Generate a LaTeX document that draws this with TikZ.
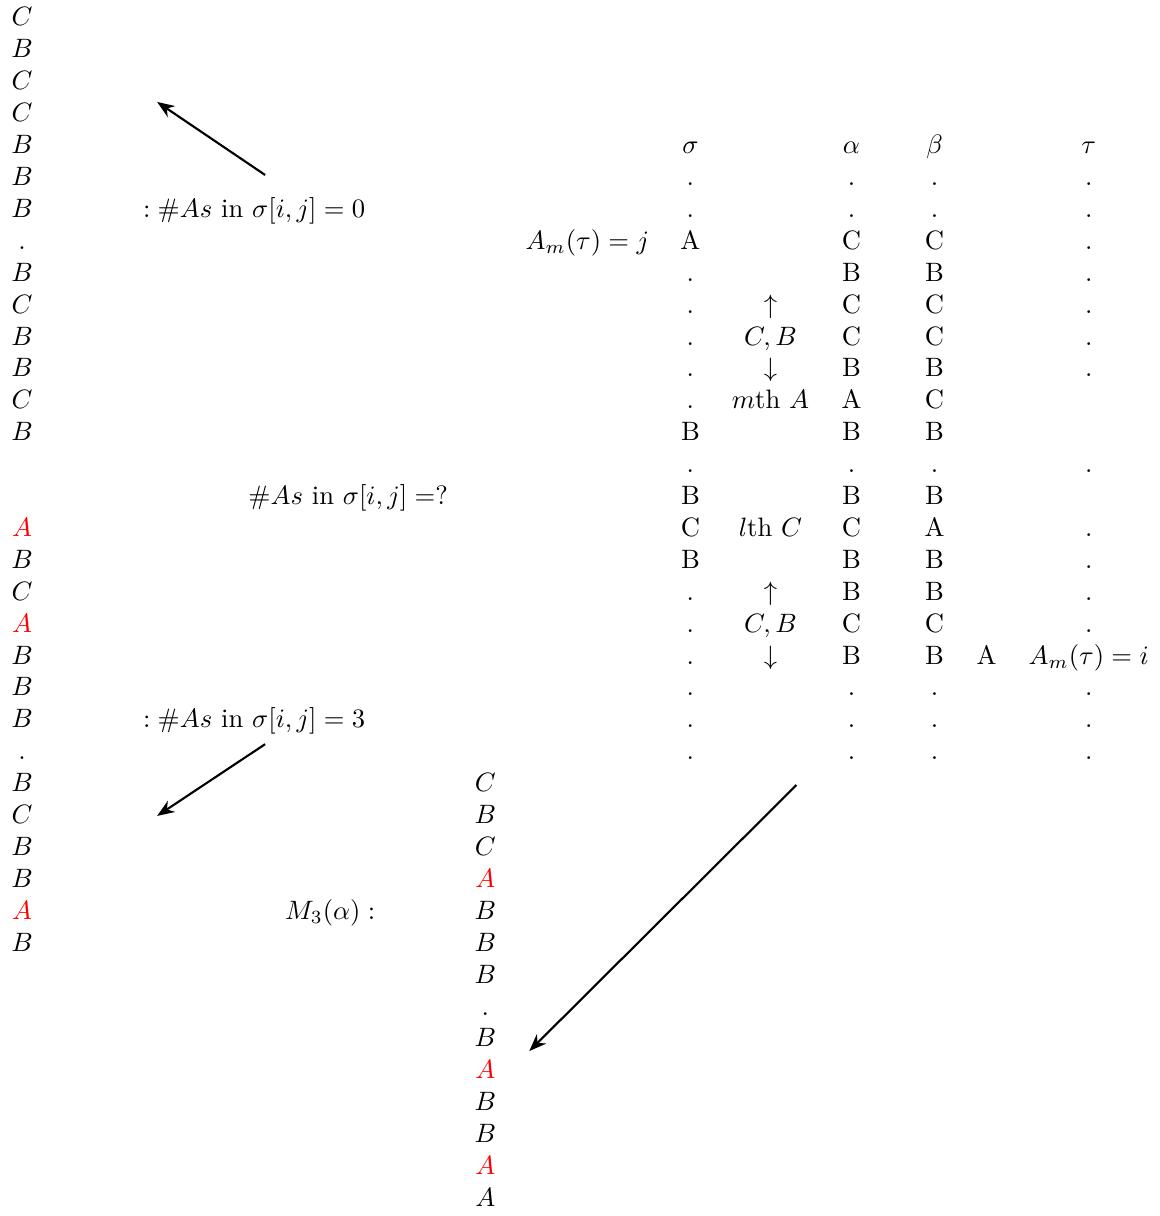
\documentclass[tikz,border=0pt]{standalone}
\usepackage{tikz}
\usetikzlibrary{calc, arrows, positioning}
\usetikzlibrary{arrows.meta}
\newcommand{\cRedA}{\textcolor{red}{A}}

\begin{document}
\begin{tikzpicture}[y=-12pt, every node/.style={anchor=base}]
        \useasboundingbox (0,-0.815) rectangle (15.33,37.30);

        % sequences on the left and below
        \foreach \sLetter [count=\nRow from 0] in {C,B,C,C,B,B,B,.,B,C,B,B,C,B}
            \node (nSeqOne\nRow) at (0.291,\nRow) {$\sLetter$};
        \foreach \sLetter [count=\nRow from 16] in {\cRedA,B,C,\cRedA,B,B,B,.,B,C,B,B,\cRedA,B}
            \node (nSeqTwo\nRow) at (0.291,\nRow) {$\sLetter$};
        \foreach \sLetter [count=\nRow from 24] in {C,B,C,\cRedA,B,B,B,.,B,\cRedA,B,B,\cRedA,A}
            \node (nSeqThree\nRow) at (6.415,\nRow) {$\sLetter$};

        \node (nZero) at (3.36,6) {$:\#As$ in $\sigma[i,j]=0$};
        \node (nQuery) at (4.603,15) {$\#As$ in $\sigma[i,j]=?$};
        \node (nThree) at (3.36,22) {$:\#As$ in $\sigma[i,j]=3$};
        \node (nMThree) at (4.365,28) {$M_3(\alpha):$};

        % the table
        \node (nSigma) at (9.127,4) {$\sigma$};
        \node (nAlpha) at (11.257,4) {$\alpha$};
        \node (nBeta) at (12.354,4) {$\beta$};
        \node (nTau) at (14.392,4) {$\tau$};
        \foreach \sLetter [count=\nRow from 5] in {.,.,A,.,.,.,.,.,B,.,B,C,B,.,.,.,.,.,.}
            \node (nSigma\nRow) at (9.127,\nRow) {\sLetter};
        \foreach \sLetter [count=\nRow from 5] in {.,.,C,B,C,C,B,A,B,.,B,C,B,B,C,B,.,.,.}
            \node (nAlpha\nRow) at (11.257,\nRow) {\sLetter};
        \foreach \sLetter [count=\nRow from 5] in {.,.,C,B,C,C,B,C,B,.,B,A,B,B,C,B,.,.,.}
            \node (nBeta\nRow) at (12.354,\nRow) {\sLetter};
        \foreach \nRow in {5,...,11,14,16,17,18,19,21,22,23}
            \node (nTau\nRow) at (14.392,\nRow) {.};

        \node (nUpOne) at (10.185,9) {$\uparrow$};
        \node (nCBOne) at (10.185,10) {$C,B$};
        \node (nDownOne) at (10.185,11) {$\downarrow$};
        \node (nMth) at (10.185,12) {$m$th $A$};
        \node (nLth) at (10.185,16) {$l$th $C$};
        \node (nUpTwo) at (10.185,18) {$\uparrow$};
        \node (nCBTwo) at (10.185,19) {$C,B$};
        \node (nDownTwo) at (10.185,20) {$\downarrow$};

        \node (nAmj) at (7.765,7) {$A_m(\tau)=j$};
        \node (nExtraA) at (13.042,20) {A};
        \node (nAmi) at (14.392,20) {$A_m(\tau)=i$};

        \coordinate (cZeroFromPt) at (3.505,4.67);
        \coordinate (cZeroToPt) at (2.077,2.38);
        \coordinate (cThreeFromPt) at (3.505,22.51);
        \coordinate (cThreeToPt) at (2.077,24.76);
        \coordinate (cTableFromPt) at (10.529,23.79);
        \coordinate (cTableToPt) at (6.997,32.13);

        \draw[thick,-{Stealth[length=6.5pt,width=5pt]}] (cZeroFromPt) -- (cZeroToPt);
        \draw[thick,-{Stealth[length=6.5pt,width=5pt]}] (cThreeFromPt) -- (cThreeToPt);
        \draw[thick,-{Stealth[length=6.5pt,width=5pt]}] (cTableFromPt) -- (cTableToPt);
\end{tikzpicture}
\end{document}
